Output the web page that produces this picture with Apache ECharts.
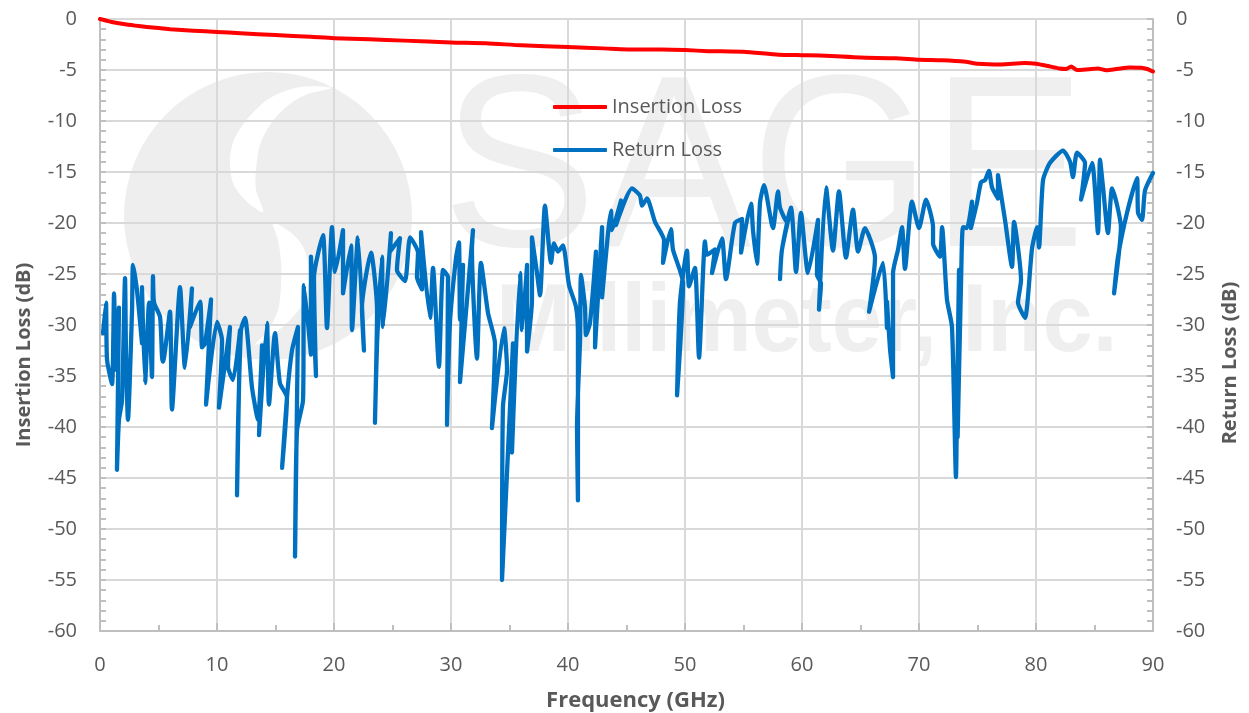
<!DOCTYPE html>
<html lang="en">
<head>
    <meta charset="UTF-8">
    <title>Insertion and Return Loss</title>
    <script src="https://cdn.jsdelivr.net/npm/echarts@6/dist/echarts.min.js"></script>
    <style>
        *{
            margin: 0;
            padding: 0;
        }
        html, body{
            width: 100%;
            height: 100%;
            overflow: hidden;
            background: #fff;
        }
        .container{
            width: 100%;
            height: 100%;
        }
    </style>
</head>
<body>
<div class="container"></div>
<script>
    // GHz / dB
    let insertionFreq=[0,0.5,1,2,3,4,6,8,10,12,15,18,20,23,26,30,33,36,40,43,46,48,50,52,55,58,60,62,65,68,70,72,74,75,77,79,80,81,82,82.6,83,83.5,84.5,85.3,86,87,88,89,89.5,90];
    let insertionDb=[0,-0.15,-0.3,-0.5,-0.65,-0.78,-1,-1.15,-1.27,-1.4,-1.58,-1.75,-1.88,-1.98,-2.12,-2.3,-2.38,-2.58,-2.75,-2.88,-3,-3,-3.05,-3.15,-3.22,-3.5,-3.55,-3.6,-3.78,-3.85,-4,-4.05,-4.2,-4.38,-4.45,-4.32,-4.38,-4.6,-4.85,-4.9,-4.65,-5,-4.92,-4.85,-5.02,-4.88,-4.75,-4.78,-4.9,-5.15];

    let returnFreq=[
        0.26,0.51,0.6,1.03,1.2,1.37,1.62,1.45,1.62,1.88,2.14,2.22,2.39,2.74,2.82,3.16,3.59,3.59,3.85,4.19,4.44,4.53,4.62,5.13,5.3,5.38,5.98,6.15,6.84,7.26,7.86,7.69,8.55,8.72,8.97,9.49,9.06,
        10,10.43,10.17,11.11,10.94,11.37,11.97,11.71,11.79,12.05,12.39,12.99,13.5,13.85,13.59,14.27,14.44,14.96,15.38,15.98,15.56,15.98,16.41,16.92,16.67,16.84,17.35,17.44,18.03,18.03,18.46,18.29,19.06,19.4,19.83,
        20.09,20.77,20.77,21.45,21.54,22.05,22.56,22.39,23.16,23.68,23.5,23.68,24.1,24.19,24.87,24.79,25.64,25.38,26.07,26.5,27.18,27.09,27.52,27.44,28.21,28.46,28.97,29.32,29.74,29.66,29.91,
        30.43,30.68,30.77,31.03,30.77,31.88,31.79,32.22,32.56,33.16,33.76,33.5,34.53,34.79,34.44,34.36,35.3,35.21,35.9,36.07,36.5,36.5,36.92,36.92,37.35,37.61,38.03,38.55,38.8,39.15,39.57,
        40.09,40.68,40.85,40.85,40.77,41.03,41.11,41.45,41.54,41.88,42.39,42.31,42.91,42.91,43.42,43.68,43.76,44.53,44.1,45.47,46.15,46.32,46.75,47.44,48.21,48.12,48.8,48.97,49.83,49.32,49.57,
        50.17,50.34,50.85,51.2,51.71,51.88,52.56,52.31,53.16,53.5,54.27,54.87,54.79,55.64,55.81,56.15,56.41,56.75,57.52,57.95,58.12,58.72,59.06,58.29,58.12,58.29,59.06,59.49,59.91,
        60.51,61.37,61.28,61.62,61.45,62.05,62.65,63.16,63.76,64.36,64.79,65.38,66.24,65.73,66.92,67.26,67.26,67.52,67.78,67.78,68.21,68.55,68.8,69.4,
        70,70.6,71.2,71.2,71.79,71.97,72.39,72.82,73.16,73.25,73.42,73.3,73.6,73.76,74.1,74.53,74.44,74.96,75.3,75.64,75.98,76.24,76.75,76.75,77.35,77.95,78.12,78.72,78.46,79.06,79.66,
        80.09,80.26,80.6,81.2,82.31,82.91,83.16,83.5,84.19,83.85,84.79,85.3,85.47,85.73,86.15,86.5,86.92,87.26,86.67,87.01,87.78,88.63,88.72,89.06,89.32,90
    ];
    let returnDb=[
        -30.8,-27.8,-33.4,-35.8,-26.9,-34.4,-28.3,-44.2,-39.3,-37.4,-25.4,-32.6,-39.3,-28.5,-24.1,-26.6,-31.8,-26.3,-35.7,-27.8,-35.1,-25.2,-27.8,-29.2,-33.1,-33.6,-28.7,-38.3,-26.3,-34.2,-26.4,-30.2,-27.7,-32.2,-31.8,-27.5,-37.8,
        -29.7,-31.5,-38.1,-30.2,-34.1,-35.4,-30.5,-46.7,-40.3,-30.5,-29.3,-36.1,-39.3,-32,-40.8,-29.8,-37.8,-30.8,-35.7,-37.1,-44,-37.1,-32.5,-30.2,-52.7,-40.3,-37.4,-26.1,-32.9,-23.3,-35,-25.3,-21.2,-30.3,-20.4,
        -24.8,-20.7,-26.9,-22.2,-30.5,-21.4,-32.5,-28.3,-22.9,-28.5,-39.6,-31.8,-23.3,-30.2,-21,-22.8,-21.5,-24.6,-25.7,-21.4,-22.9,-25.3,-26.5,-20.9,-29.3,-24.4,-34.1,-24.6,-25.3,-39.8,-29.8,
        -23.4,-21.9,-29.5,-24.1,-35.6,-20.7,-22.6,-33.3,-23.9,-28.8,-31.8,-40.1,-30.3,-34.4,-38,-55,-31.8,-42.5,-24.9,-30.5,-24.1,-32.6,-27.5,-21.4,-24.9,-27.1,-18.3,-23.9,-22,-22.8,-22.2,
        -26.1,-28.2,-30.8,-47.2,-40,-31.5,-25.1,-28.2,-31,-29.8,-22.8,-32.2,-20.4,-27.3,-21,-18.8,-20.7,-17.8,-20.2,-16.6,-17.3,-18.3,-17.6,-19.9,-21.7,-23.9,-20.6,-22.6,-25.9,-36.9,-27.8,
        -22.7,-26.2,-24.4,-33.2,-21.8,-23.1,-22.6,-24.9,-21.5,-25.5,-20,-19.6,-22.9,-18.1,-20.7,-24,-18,-16.3,-20.5,-16.9,-18.5,-19.9,-18.5,-22.6,-25.5,-22.6,-18.5,-24.8,-19,
        -24.9,-19.7,-25.1,-25.9,-28.5,-16.5,-22.7,-16.9,-23.4,-18.7,-22.8,-20.5,-23.4,-28.7,-23.9,-30.3,-27.7,-32.3,-35.1,-24.9,-22.6,-20.4,-24.5,-17.9,
        -20.5,-17.7,-20.4,-22,-23.3,-20.4,-27.5,-30.2,-44.9,-37.4,-24.6,-41,-25.5,-20.4,-20.5,-17.9,-20.5,-18,-16,-15.8,-14.9,-16.5,-17.6,-15.3,-19.7,-24.3,-19.9,-25.6,-27.8,-29.3,-22.5,
        -20.4,-22.4,-15.8,-14.1,-12.9,-14,-15.5,-13.1,-14.1,-17.7,-14.1,-21,-13.8,-16.5,-21,-16.6,-18.2,-20.4,-26.9,-23.3,-19,-15.6,-19,-19.7,-16.8,-15.1
    ];

    let yTicks=['-60','-55','-50','-45','-40','-35','-30','-25','-20','-15','-10','-5','0'];

    let textColor='#595959';
    let fontName='"Open Sans"';

    let container=document.querySelector('.container');
    let mycharts=echarts.init(container);

    function pairs(xs,ys){
        return xs.map((x,i)=>[x,ys[i]]);
    }

    function valueAxis(position,name,padding){
        return {
            type:'value',
            position:position,
            min:-60,
            max:0,
            interval:5,
            name:name,
            nameLocation:'middle',
            nameGap:position=='left'?66:67,
            nameRotate:90,
            nameTextStyle:{
                color:textColor,
                fontFamily:fontName,
                fontSize:20,
                fontWeight:'bold',
                padding:padding
            },
            axisLine:{show:true,onZero:false,lineStyle:{color:'#bfbfbf',width:2}},
            axisTick:{show:true,inside:true,length:6,lineStyle:{color:'#bfbfbf',width:2}},
            minorTick:{show:true,splitNumber:5,length:6,lineStyle:{color:'#bfbfbf',width:2}},
            axisLabel:{
                color:textColor,
                fontFamily:fontName,
                fontSize:20,
                margin:23,
                formatter:v=>yTicks[(v+60)/5]
            },
            splitLine:{show:position=='left',lineStyle:{color:'#d9d9d9',width:2}}
        };
    }

    let options={
        backgroundColor:'#fff',
        animation:false,
        grid:{left:100,right:96,top:19,bottom:82,outerBoundsMode:'none'},
        legend:{
            left:548,
            top:90,
            orient:'vertical',
            icon:'roundRect',
            itemWidth:54,
            itemHeight:4,
            itemGap:19,
            textStyle:{color:textColor,fontFamily:fontName,fontSize:20,lineHeight:24},
            data:['Insertion Loss','Return Loss']
        },
        // faded company logo behind the plot
        graphic:[
            {type:'circle',z:-10,shape:{cx:268,cy:216,r:144},style:{fill:'#eeeeee'}},
            {type:'polygon',z:-9,shape:{smooth:0.3,points:[[331,88],[300,87],[270,98],[248,118],[234,140],[230,160],[233,183],[245,200],[263,212],[256,190],[256,170],[260,145],[270,125],[285,108],[305,95]]},style:{fill:'#fff'}},
            {type:'polygon',z:-9,shape:{smooth:0.3,points:[[273,223],[290,232],[302,245],[308,262],[309,282],[302,305],[285,325],[265,340],[255,345],[268,330],[278,310],[281,285],[281,262],[278,240]]},style:{fill:'#fff'}},
            {type:'text',z:-8,x:442,y:56,scaleX:0.945,style:{text:'SAGE',fill:'#efefef',font:'245px "Liberation Sans"'}},
            {type:'text',z:-8,x:496,y:276,scaleX:0.93,style:{text:'Millimeter, Inc.',fill:'#efefef',font:'bold 97px "Liberation Sans"'}}
        ],
        xAxis:{
            type:'value',
            min:0,
            max:90,
            interval:10,
            name:'Frequency (GHz)',
            nameLocation:'middle',
            nameGap:59,
            nameTextStyle:{color:textColor,fontFamily:fontName,fontSize:22,fontWeight:'bold',padding:[0,0,0,18]},
            axisLine:{show:true,onZero:false,lineStyle:{color:'#bfbfbf',width:2}},
            axisTick:{show:true,inside:true,length:8,lineStyle:{color:'#bfbfbf',width:2}},
            minorTick:{show:true,splitNumber:2,length:6,lineStyle:{color:'#bfbfbf',width:2}},
            axisLabel:{color:textColor,fontFamily:fontName,fontSize:20,margin:24},
            splitLine:{show:true,lineStyle:{color:'#d9d9d9',width:2}}
        },
        yAxis:[
            valueAxis('left','Insertion Loss (dB)',[0,60,0,0]),
            valueAxis('right','Return Loss (dB)',[0,76,0,0])
        ],
        series:[
            {
                name:'Insertion Loss',
                type:'line',
                yAxisIndex:0,
                data:pairs(insertionFreq,insertionDb),
                symbol:'none',
                smooth:0.2,
                lineStyle:{color:'#ff0000',width:4,cap:'round',join:'round'},
                itemStyle:{color:'#ff0000'},
                z:3
            },
            {
                name:'Return Loss',
                type:'line',
                yAxisIndex:1,
                data:pairs(returnFreq,returnDb),
                symbol:'none',
                smooth:0.2,
                lineStyle:{color:'#0070c0',width:4.3,cap:'round',join:'round'},
                itemStyle:{color:'#0070c0'},
                z:2
            }
        ]
    };

    mycharts.setOption(options);
</script>
</body>
</html>
